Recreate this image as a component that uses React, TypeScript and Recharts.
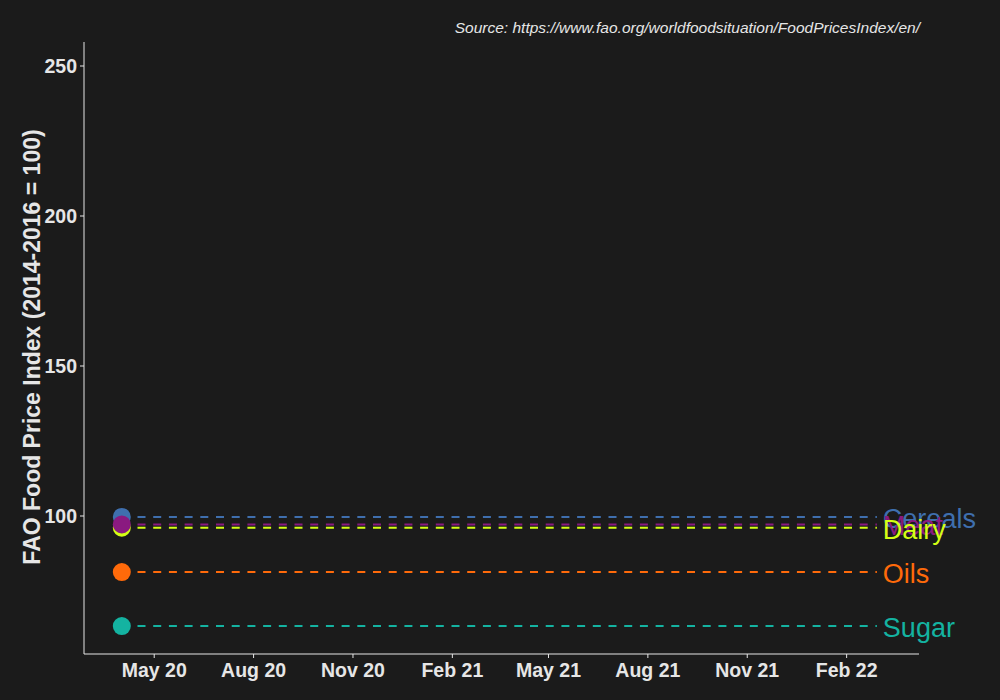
import React from "react";
import { ComposedChart, Line, XAxis, YAxis } from "recharts";

const categories = ["Cereals", "Meat", "Dairy", "Oils", "Sugar"];
const values = [99.7, 97.2, 96.1, 81.3, 63.3];
const colors = ["#3F6FAE", "#8A1A80", "#D4FF14", "#FF6A0A", "#14B3A1"];
const startDate = Date.UTC(2020, 3, 1);
const endDate = Date.UTC(2022, 2, 1);
const tickDates = [
  Date.UTC(2020, 4, 1),
  Date.UTC(2020, 7, 1),
  Date.UTC(2020, 10, 1),
  Date.UTC(2021, 1, 1),
  Date.UTC(2021, 4, 1),
  Date.UTC(2021, 7, 1),
  Date.UTC(2021, 10, 1),
  Date.UTC(2022, 1, 1),
];
const yTicks = [100, 150, 200, 250];
const monthNames = ["Jan", "Feb", "Mar", "Apr", "May", "Jun", "Jul", "Aug", "Sep", "Oct", "Nov", "Dec"];

const data = [startDate, endDate].map((t) => {
  const row: any = { t };
  categories.forEach((c, i) => (row[c] = values[i]));
  return row;
});

const FONT = "'Liberation Sans', Arial, sans-serif";
const TEXT = "#E6E6E6";

const fmtDate = (t: number) => {
  const d = new Date(t);
  return `${monthNames[d.getUTCMonth()]} ${String(d.getUTCFullYear()).slice(2)}`;
};

const drawOrder = [0, 2, 1, 3, 4];
const labelOrder = [0, 1, 2, 3, 4];

export default function App() {
  return (
    <div style={{ position: "absolute", left: 0, top: 0, width: 1000, height: 700, background: "#1B1B1B" }}>
      <ComposedChart width={1000} height={700} data={data} margin={{ top: 42, right: 81, bottom: 6, left: 24 }}>
        <XAxis
          dataKey="t"
          type="number"
          scale="time"
          domain={[Date.UTC(2020, 1, 26), Date.UTC(2022, 3, 9)]}
          ticks={tickDates}
          tickFormatter={fmtDate}
          height={40}
          stroke={TEXT}
          tickSize={4}
          tickMargin={5}
          tick={{ fill: TEXT, fontSize: 19.5, fontWeight: "bold", fontFamily: FONT }}
          allowDataOverflow
        />
        <YAxis
          type="number"
          domain={[54, 258]}
          ticks={yTicks}
          width={60}
          stroke={TEXT}
          tickSize={4}
          tickMargin={3}
          tick={{ fill: TEXT, fontSize: 19.5, fontWeight: "bold", fontFamily: FONT }}
          allowDataOverflow
        />
        {drawOrder.map((i) => (
          <Line
            key={categories[i]}
            dataKey={categories[i]}
            stroke={colors[i]}
            strokeWidth={2}
            strokeDasharray="8 7.7"
            isAnimationActive={false}
            dot={(p: any) =>
              p.index === 0 ? (
                <circle key={`d-${i}-${p.index}`} cx={p.cx} cy={p.cy} r={9} fill={colors[i]} />
              ) : (
                <g key={`d-${i}-${p.index}`} />
              )
            }
            activeDot={false}
          />
        ))}
        {labelOrder.map((i) => (
          <Line
            key={`lab-${categories[i]}`}
            dataKey={categories[i]}
            stroke="none"
            dot={false}
            activeDot={false}
            isAnimationActive={false}
            label={(p: any) =>
              p.index === 1 ? (
                <text
                  key={`l-${i}`}
                  x={p.x + 6}
                  y={p.y + 11}
                  fill={colors[i]}
                  fontSize={27}
                  fontFamily={FONT}
                  textAnchor="start"
                >
                  {categories[i]}
                </text>
              ) : (
                <g key={`l-${i}-${p.index}`} />
              )
            }
          />
        ))}
      </ComposedChart>
      <div
        style={{
          position: "absolute",
          left: 0,
          top: 0,
          width: 1000,
          height: 700,
          pointerEvents: "none",
        }}
      >
        <svg width={1000} height={700} style={{ position: "absolute", left: 0, top: 0 }}>
          <text
            x={920}
            y={33}
            textAnchor="end"
            fill={TEXT}
            fontSize={15.5}
            fontStyle="italic"
            fontFamily={FONT}
          >
            Source: https://www.fao.org/worldfoodsituation/FoodPricesIndex/en/
          </text>
          <text
            x={40}
            y={347}
            transform="rotate(-90 40 347)"
            textAnchor="middle"
            fill={TEXT}
            fontSize={23}
            fontWeight="bold"
            fontFamily={FONT}
          >
            FAO Food Price Index (2014-2016 = 100)
          </text>
        </svg>
      </div>
    </div>
  );
}
